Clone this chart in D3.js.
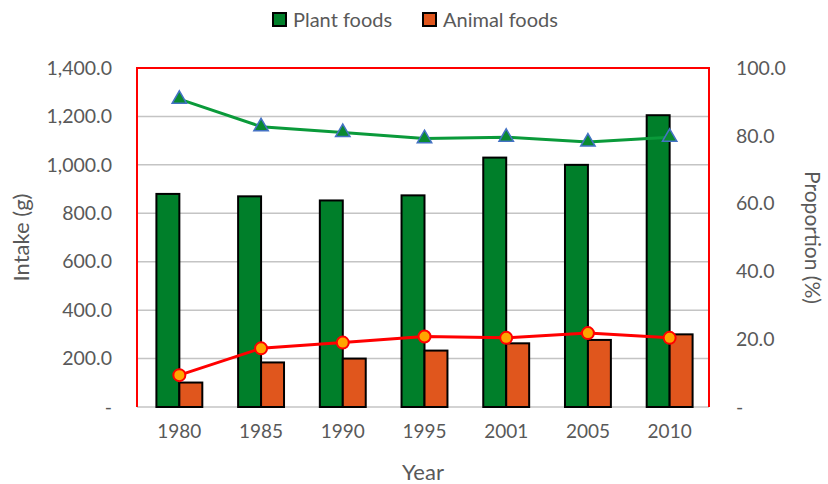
<!DOCTYPE html>
<html><head><meta charset="utf-8">
<script src="https://cdn.jsdelivr.net/npm/d3@7"></script>
<style>body{margin:0;background:#fff}svg{display:block}text{font-family:Lato,"Open Sans",sans-serif;fill:#595959}</style>
</head><body>
<svg id="c" width="828" height="484"></svg>
<script>
const years = ["1980","1985","1990","1995","2001","2005","2010"];
const plantFoods = [880, 870, 853, 874, 1030, 1000, 1205];
const animalFoods = [101, 184, 200, 233, 263, 277, 300];
const plantPct = [90.8, 82.7, 81.0, 79.2, 79.6, 78.2, 79.6];
const animalPct = [9.4, 17.3, 19.0, 20.8, 20.4, 21.8, 20.4];
const leftTicks = [0, 200, 400, 600, 800, 1000, 1200, 1400];
const rightTicks = [0, 20, 40, 60, 80, 100];
const seriesNames = ["Plant foods", "Animal foods"];

const svg = d3.select("#c");
const L = 137, R = 709, T = 68, B = 407;
const x = d3.scaleBand().domain(years).range([L + 1.5, R + 1.5]).padding(0);
const x1 = d3.scaleBand().domain(seriesNames).range([0, x.bandwidth()]).paddingInner(0).paddingOuter(0.78);
const yL = d3.scaleLinear().domain([0, 1400]).range([B, T]);
const yR = d3.scaleLinear().domain([0, 100]).range([B, T]);
const colors = {"Plant foods": "#007f2a", "Animal foods": "#e0561d"};
const fmt = d => d === 0 ? "-" : d3.format(",.1f")(d);

// gridlines
svg.append("g").selectAll("line").data(leftTicks.slice(1)).join("line")
  .attr("x1", L).attr("x2", R).attr("y1", d => yL(d)).attr("y2", d => yL(d))
  .attr("stroke", "#c4c4c4").attr("stroke-width", 1.5);

// left axis
const gl = svg.append("g").attr("transform", `translate(${L},0)`)
  .call(d3.axisLeft(yL).tickValues(leftTicks).tickFormat(fmt).tickSize(0).tickPadding(25));
gl.select(".domain").remove();
gl.selectAll("text").style("font-size", "19.5px").attr("fill", "#595959");
// right axis
const gr = svg.append("g").attr("transform", `translate(${R},0)`)
  .call(d3.axisRight(yR).tickValues(rightTicks).tickFormat(fmt).tickSize(0).tickPadding(27));
gr.select(".domain").remove();
gr.selectAll("text").style("font-size", "19.5px").attr("fill", "#595959");
// bottom axis
const gb = svg.append("g").attr("transform", `translate(0,${B})`)
  .call(d3.axisBottom(x).tickSize(0).tickPadding(18));
gb.select(".domain").remove();
gb.selectAll("text").style("font-size", "19px").attr("fill", "#595959");
svg.append("line").attr("x1", L).attr("x2", R).attr("y1", B).attr("y2", B)
  .attr("stroke", "#c4c4c4").attr("stroke-width", 1.5);

// bars
const data = years.map((y, i) => ({year: y, vals: [
  {name: "Plant foods", v: plantFoods[i]}, {name: "Animal foods", v: animalFoods[i]}]}));
svg.append("g").selectAll("g").data(data).join("g")
  .attr("transform", d => `translate(${x(d.year)},0)`)
  .selectAll("rect").data(d => d.vals).join("rect")
  .attr("x", d => x1(d.name)).attr("width", x1.bandwidth())
  .attr("y", d => yL(d.v)).attr("height", d => B - yL(d.v))
  .attr("fill", d => colors[d.name]).attr("stroke", "#000").attr("stroke-width", 2);

// plot border (red, three sides)
svg.append("path")
  .attr("d", `M${L},${B}V${T}H${R}V${B}`)
  .attr("fill", "none").attr("stroke", "#ff0000").attr("stroke-width", 2);

const cx = d => x(d) + x.bandwidth() / 2;
// green line
const lineG = d3.line().x((d, i) => cx(years[i])).y(d => yR(d));
svg.append("path").attr("d", lineG(plantPct)).attr("fill", "none")
  .attr("stroke", "#0a9a3a").attr("stroke-width", 3);
svg.append("g").selectAll("path").data(plantPct).join("path")
  .attr("d", d3.symbol(d3.symbolTriangle, 90)())
  .attr("transform", (d, i) => `translate(${cx(years[i])},${yR(d)})`)
  .attr("fill", "#0a8a30").attr("stroke", "#4472c4").attr("stroke-width", 1.5);
// red line
svg.append("path").attr("d", lineG(animalPct)).attr("fill", "none")
  .attr("stroke", "#ff0000").attr("stroke-width", 3);
svg.append("g").selectAll("circle").data(animalPct).join("circle")
  .attr("cx", (d, i) => cx(years[i])).attr("cy", d => yR(d)).attr("r", 6)
  .attr("fill", "#ffa500").attr("stroke", "#ff0000").attr("stroke-width", 2);

// axis titles
svg.append("text").attr("x", (L + R) / 2).attr("y", 480).attr("text-anchor", "middle")
  .style("font-size", "22px").text("Year");
svg.append("text").attr("transform", `translate(29,${(T + B) / 2}) rotate(-90)`)
  .attr("text-anchor", "middle").style("font-size", "22px").text("Intake (g)");
svg.append("text").attr("transform", `translate(805,${(T + B) / 2}) rotate(90)`)
  .attr("text-anchor", "middle").style("font-size", "21px").text("Proportion (%)");

// legend
const leg = [{name: "Plant foods", x: 273}, {name: "Animal foods", x: 423}];
const lg = svg.append("g").selectAll("g").data(leg).join("g")
  .attr("transform", d => `translate(${d.x},13)`);
lg.append("rect").attr("width", 13).attr("height", 13)
  .attr("fill", d => colors[d.name]).attr("stroke", "#000").attr("stroke-width", 2);
lg.append("text").attr("x", 20).attr("y", 14).style("font-size", "20px").text(d => d.name);
</script>
</body></html>
